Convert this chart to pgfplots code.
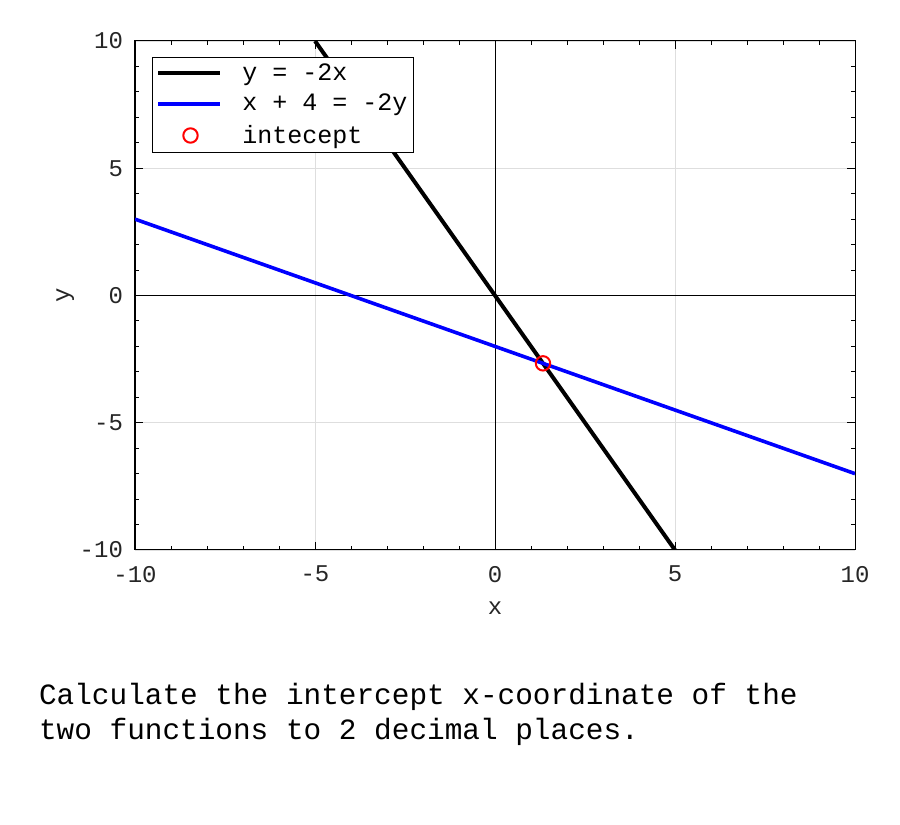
\documentclass[border=0pt]{standalone}
\usepackage{pgfplots}
\pgfplotsset{compat=1.18}
\usepackage{fontspec}
\setmainfont{Liberation Mono}
\setmonofont{Liberation Mono}
\definecolor{tickgray}{RGB}{38,38,38}
\definecolor{gridgray}{RGB}{222,222,222}
\begin{document}
\begin{tikzpicture}
\path[use as bounding box] (0,0) rectangle (450pt,412.5pt);
\begin{axis}[
  at={(67.5pt,137.5pt)}, anchor=south west,
  scale only axis, width=360pt, height=254.5pt,
  xmin=-10, xmax=10, ymin=-10, ymax=10,
  xtick={-10,-5,0,5,10}, ytick={-10,-5,0,5,10},
  xticklabels={-10,-5,0,5,10}, yticklabels={-10,-5,0,5,10},
  minor tick num=4,
  major tick length=4pt, minor tick length=2pt,
  tick align=inside,
  tick style={black, line width=0.5pt},
  axis line style={black, line width=0.5pt},
  grid=major, major grid style={gridgray, line width=0.4pt},
  ticklabel style={font=\fontsize{12}{14}\selectfont, text=tickgray},
  xticklabel style={yshift=-4.5pt},
  yticklabel style={xshift=-2.5pt},
  xlabel={x}, ylabel={y},
  label style={font=\fontsize{12}{14}\selectfont, text=tickgray},
  xlabel style={yshift=-3pt},
  ylabel style={yshift=-4pt},
  legend style={at={(0.0236,0.9686)}, anchor=north west, draw=black, line width=0.5pt,
     font=\fontsize{12.5}{15.5}\selectfont, inner sep=1pt, row sep=1.5pt,
     cells={anchor=west}},
  legend image code/.code={\draw[#1] (0pt,0pt) -- (31pt,0pt); \path (-1pt,0pt) (39pt,0pt);},
  clip=true,
]
\addplot[black, line width=0.5pt, forget plot] coordinates {(-10,0) (10,0)};
\addplot[black, line width=0.5pt, forget plot] coordinates {(0,-10) (0,10)};
\addplot[black, line width=2pt] coordinates {(-5,10) (5,-10)};
\addlegendentry{y = -2x}
\addplot[blue, line width=1.8pt] coordinates {(-10,3) (10,-7)};
\addlegendentry{x + 4 = -2y}
\addplot[red, only marks, mark=o, mark size=3.6pt, mark options={line width=1pt},
  legend image code/.code={\draw[red, line width=1pt] (16pt,0pt) circle (3.6pt); \path (-1pt,0pt) (39pt,0pt);}]
  coordinates {(1.3333,-2.6667)};
\addlegendentry{intecept}
\end{axis}
\node[anchor=base west, font=\fontsize{14.7}{17.5}\selectfont, align=left] at (16pt,60pt) {Calculate the intercept x-coordinate of the};
\node[anchor=base west, font=\fontsize{14.7}{17.5}\selectfont, align=left] at (16pt,42.5pt) {two functions to 2 decimal places.};
\end{tikzpicture}
\end{document}
